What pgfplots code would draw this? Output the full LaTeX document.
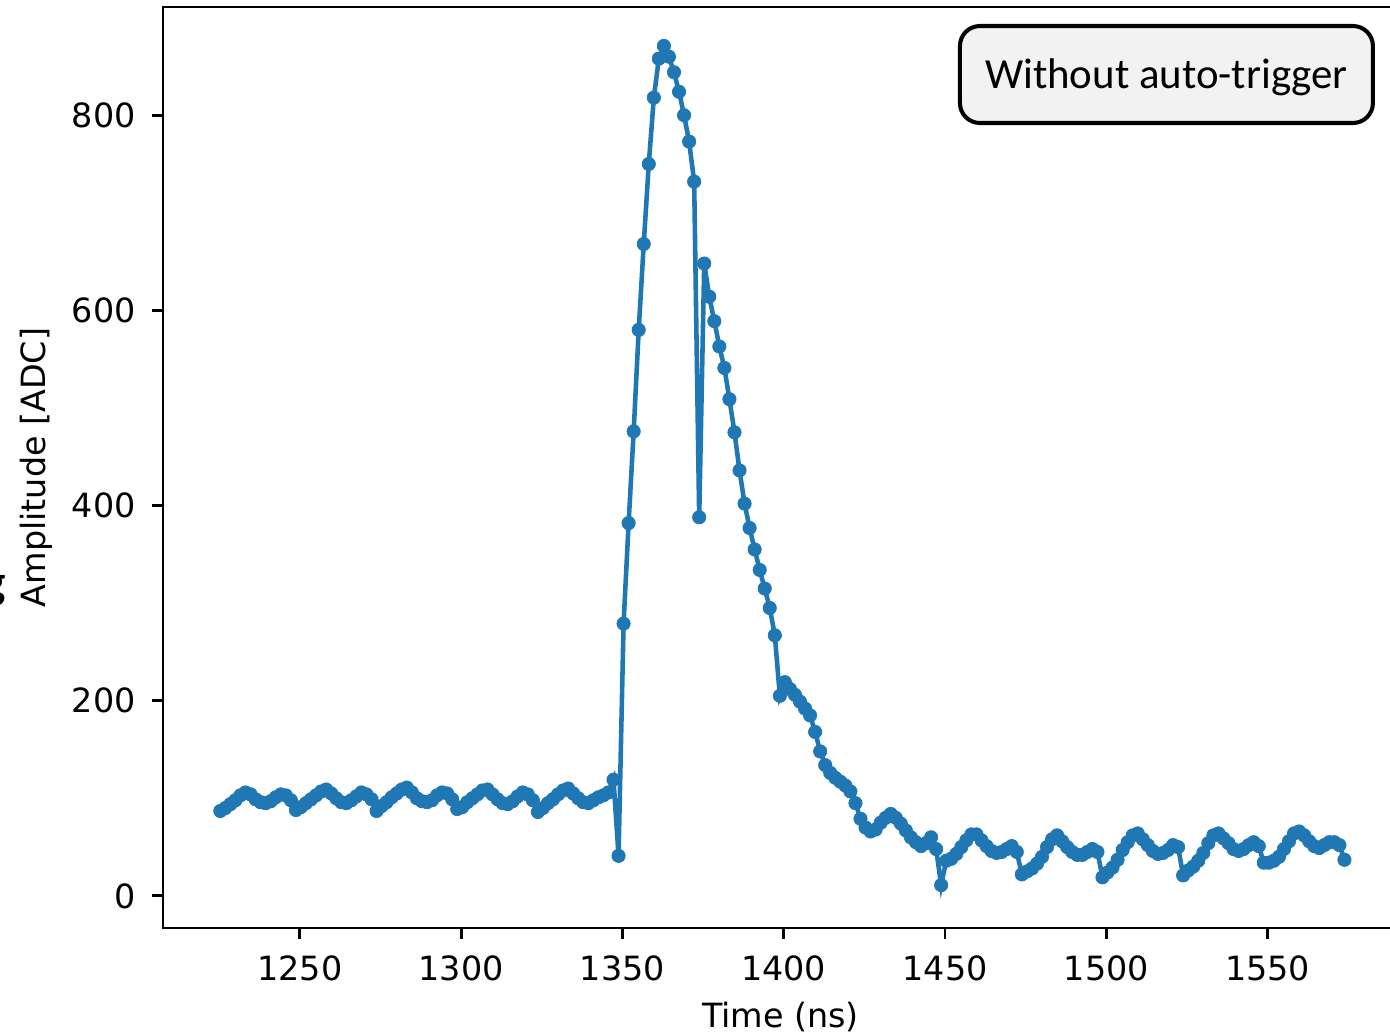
\documentclass[border=0pt]{standalone}
\usepackage{fontspec}
\setmainfont{DejaVu Sans}
\newfontfamily\carlito{Carlito}
\usepackage{pgfplots}
\usepackage{pgfplotstable}
\pgfplotsset{compat=1.18}
\definecolor{mplblue}{HTML}{1F77B4}
\definecolor{boxgray}{HTML}{F2F2F2}

\pgfplotstableread{
t y
1225.36 87
1226.92 90
1228.49 94
1230.05 98
1231.61 103
1233.17 106
1234.74 104
1236.30 99
1237.86 96
1239.42 95
1240.99 97
1242.55 101
1244.11 104
1245.67 103
1247.24 98
1248.80 88
1250.36 91
1251.92 95
1253.49 99
1255.05 103
1256.61 107
1258.17 109
1259.74 105
1261.30 100
1262.86 96
1264.42 95
1265.99 98
1267.55 102
1269.11 106
1270.67 104
1272.24 99
1273.80 87
1275.36 92
1276.92 96
1278.49 101
1280.05 105
1281.61 109
1283.17 111
1284.74 106
1286.30 100
1287.86 97
1289.42 96
1290.99 98
1292.55 103
1294.11 106
1295.67 105
1297.24 99
1298.80 89
1300.36 91
1301.92 96
1303.49 100
1305.05 104
1306.61 108
1308.17 109
1309.74 104
1311.30 99
1312.86 95
1314.42 94
1315.99 97
1317.55 102
1319.11 106
1320.67 104
1322.24 98
1323.80 86
1325.36 90
1326.92 95
1328.49 99
1330.05 104
1331.61 108
1333.17 110
1334.74 105
1336.30 100
1337.86 96
1339.42 95
1340.99 98
1342.55 101
1344.11 103
1345.67 106
1347.24 119
1348.80 41
1350.36 279
1351.92 382
1353.49 476
1355.05 580
1356.61 668
1358.17 750
1359.74 818
1361.30 858
1362.86 871
1364.42 860
1365.99 844
1367.55 824
1369.11 800
1370.67 773
1372.24 732
1373.80 388
1375.36 648
1376.92 614
1378.49 589
1380.05 563
1381.61 541
1383.17 509
1384.74 475
1386.30 436
1387.86 402
1389.42 377
1390.99 355
1392.55 334
1394.11 315
1395.67 295
1397.24 267
1398.80 205
1400.36 219
1401.92 212
1403.49 206
1405.05 199
1406.61 192
1408.17 185
1409.74 168
1411.30 148
1412.86 134
1414.42 126
1415.99 121
1417.55 117
1419.11 113
1420.67 107
1422.24 95
1423.80 79
1425.36 70
1426.92 66
1428.49 68
1430.05 75
1431.61 80
1433.17 84
1434.74 80
1436.30 74
1437.86 67
1439.42 60
1440.99 55
1442.55 51
1444.11 54
1445.67 60
1447.24 48
1448.80 11
1450.36 36
1451.92 38
1453.49 43
1455.05 50
1456.61 57
1458.17 63
1459.74 63
1461.30 57
1462.86 51
1464.42 46
1465.99 44
1467.55 45
1469.11 48
1470.67 51
1472.24 45
1473.80 22
1475.36 25
1476.92 28
1478.49 33
1480.05 40
1481.61 50
1483.17 58
1484.74 62
1486.30 56
1487.86 50
1489.42 45
1490.99 42
1492.55 42
1494.11 45
1495.67 48
1497.24 45
1498.80 19
1500.36 24
1501.92 29
1503.49 37
1505.05 47
1506.61 55
1508.17 62
1509.74 64
1511.30 58
1512.86 52
1514.42 46
1515.99 43
1517.55 44
1519.11 47
1520.67 52
1522.24 50
1523.80 21
1525.36 26
1526.92 30
1528.49 36
1530.05 44
1531.61 54
1533.17 62
1534.74 64
1536.30 59
1537.86 54
1539.42 48
1540.99 46
1542.55 48
1544.11 52
1545.67 55
1547.24 51
1548.80 34
1550.36 34
1551.92 36
1553.49 40
1555.05 48
1556.61 56
1558.17 64
1559.74 66
1561.30 62
1562.86 56
1564.42 51
1565.99 49
1567.55 52
1569.11 55
1570.67 55
1572.24 52
1573.80 37
}\datatable

\begin{document}
\begin{tikzpicture}
\begin{axis}[
  at={(0,0)}, anchor=south west,
  scale only axis, width=12.35cm, height=9.21cm,
  xmin=1207.6, xmax=1590.4, ymin=-32.9, ymax=910.9,
  xtick={1250,1300,1350,1400,1450,1500,1550},
  ytick={0,200,400,600,800},
  tick align=outside, major tick length=1.1mm,
  tick style={black, line width=0.8pt},
  xtick pos=lower, ytick pos=left,
  axis line style={black, line width=0.8pt},
  font=\fontsize{9.5}{11}\selectfont,
  /pgf/number format/assume math mode=true,
  /pgf/number format/1000 sep={},
  xticklabel style={yshift=-0.4mm},
  yticklabel style={xshift=-0.4mm},
  xlabel={Time (ns)}, ylabel={Amplitude [ADC]},
  xlabel style={at={(axis description cs:0.5,-0.0966)}, anchor=center},
  ylabel style={at={(axis description cs:-0.1028,0.5)}, anchor=center},
  clip=false,
]
\addplot[mplblue, line width=1.3pt, mark=*, mark size=1.9pt,
  mark options={draw=mplblue, fill=mplblue, line width=0.2pt}]
  table[x=t, y=y]{\datatable};
\node[draw=black, line width=1.15pt, rounded corners=2mm, fill=boxgray,
  minimum width=41.3mm, minimum height=9.7mm, inner sep=0pt,
  font=\carlito\fontsize{12.2}{14}\selectfont]
  at (axis description cs:0.8125,0.9267) {};
\node[inner sep=0pt, font=\carlito\fontsize{12.2}{14}\selectfont]
  at ([yshift=-0.3mm]axis description cs:0.8125,0.9267) {Without auto-trigger};
\end{axis}
\node[anchor=east, inner sep=0pt, font=\carlito\bfseries\fontsize{14}{16}\selectfont]
  at (-1.56,3.37) {g};
\pgfresetboundingbox
\path[use as bounding box] (-1.63,-1.06) rectangle (12.27,9.28);
\end{tikzpicture}
\end{document}
